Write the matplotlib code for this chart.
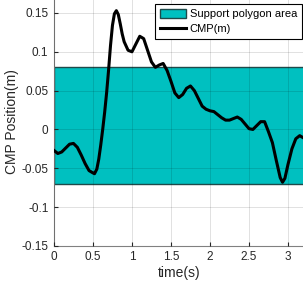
import numpy as np
import matplotlib
matplotlib.use('Agg')
import matplotlib.pyplot as plt
from matplotlib.patches import Rectangle

# CMP trace
t = [0.00, 0.05, 0.10, 0.15, 0.20, 0.25, 0.30, 0.35, 0.40, 0.45,
     0.50, 0.52, 0.55, 0.575, 0.60, 0.625, 0.65, 0.675, 0.70, 0.725,
     0.75, 0.775, 0.80, 0.825, 0.85, 0.875, 0.90, 0.95, 1.00, 1.05,
     1.10, 1.15, 1.20, 1.25, 1.30, 1.35, 1.40, 1.45, 1.50, 1.55,
     1.60, 1.65, 1.70, 1.75, 1.80, 1.85, 1.90, 1.95, 2.00, 2.05,
     2.10, 2.15, 2.20, 2.25, 2.30, 2.35, 2.40, 2.45, 2.50, 2.55,
     2.60, 2.65, 2.70, 2.75, 2.80, 2.85, 2.90, 2.93, 2.96, 3.00,
     3.05, 3.10, 3.15, 3.20]
cmp = [-0.027, -0.031, -0.029, -0.024, -0.019, -0.018, -0.023, -0.033, -0.044, -0.053,
       -0.056, -0.057, -0.051, -0.038, -0.020, 0.000, 0.022, 0.047, 0.076, 0.108,
       0.134, 0.149, 0.153, 0.148, 0.136, 0.123, 0.113, 0.102, 0.100, 0.110,
       0.120, 0.117, 0.102, 0.087, 0.080, 0.083, 0.085, 0.076, 0.062, 0.047,
       0.041, 0.045, 0.053, 0.056, 0.050, 0.040, 0.030, 0.026, 0.024, 0.023,
       0.019, 0.015, 0.012, 0.012, 0.014, 0.016, 0.013, 0.007, 0.001, 0.000,
       0.005, 0.010, 0.010, -0.003, -0.017, -0.040, -0.062, -0.068, -0.063, -0.045,
       -0.025, -0.012, -0.008, -0.011]

support_lo, support_hi = -0.07, 0.08
xticks = [0, 0.5, 1, 1.5, 2, 2.5, 3]
yticks = [-0.15, -0.1, -0.05, 0, 0.05, 0.1, 0.15]

plt.rcParams['font.family'] = ['Liberation Sans', 'DejaVu Sans']

fig = plt.figure(figsize=(3.03, 2.82), dpi=100)
ax = fig.add_axes([0.178, 0.128, 0.824, 0.881])

rect = Rectangle((0, support_lo), 3.2, support_hi - support_lo,
                 facecolor='#00c0c0', edgecolor='#1e4a4a', linewidth=1.0,
                 label='Support polygon area', zorder=1)
ax.add_patch(rect)
ax.plot(t, cmp, color='black', linewidth=2.2, label='CMP(m)', zorder=3)

ax.set_xlim(0, 3.2)
ax.set_ylim(-0.15, 0.17)
ax.set_xticks(xticks)
ax.set_xticklabels(['0', '0.5', '1', '1.5', '2', '2.5', '3'])
ax.set_yticks(yticks)
ax.set_yticklabels(['-0.15', '-0.1', '-0.05', '0', '0.05', '0.1', '0.15'])
ax.grid(True, color='black', alpha=0.12, linewidth=0.7, zorder=2)
ax.set_axisbelow(False)
ax.tick_params(direction='in', length=3, labelsize=8.5, colors='#262626', pad=4)
for s in ax.spines.values():
    s.set_color('#808080')

ax.set_xlabel('time(s)', fontsize=10, color='#262626', labelpad=1.5)
ax.set_ylabel('CMP Position(m)', fontsize=10, color='#262626', labelpad=2)

leg = ax.legend(loc='upper right', bbox_to_anchor=(302 / 303, 1 - 4 / 282),
                bbox_transform=fig.transFigure, fancybox=False, framealpha=1,
                edgecolor='black', fontsize=8, handlelength=2.4, handleheight=0.9,
                borderpad=0.45, labelspacing=0.4, handletextpad=0.3, borderaxespad=0)
leg.get_frame().set_linewidth(0.8)

plt.savefig('out.png', dpi=100, facecolor='white')
